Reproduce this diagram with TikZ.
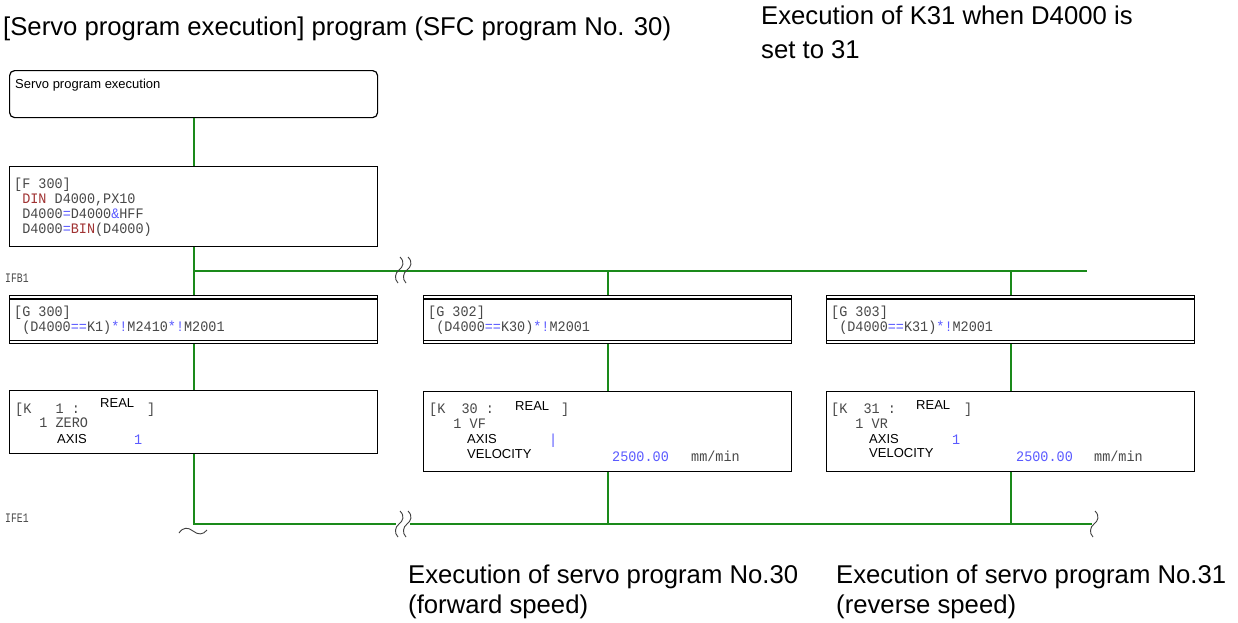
\documentclass[tikz,border=0pt]{standalone}
\usepackage{fontspec}
\setmainfont{Liberation Sans}
\newfontfamily\codefont[FakeStretch=0.93]{Liberation Mono}
\newfontfamily\labelfont[FakeStretch=0.75]{Liberation Mono}
\definecolor{wiregreen}{HTML}{1A8A1A}
\definecolor{codegray}{HTML}{484848}
\definecolor{opblue}{HTML}{5A5AFF}
\definecolor{kwred}{HTML}{A03232}
\newcommand\opc[1]{\textcolor{opblue}{#1}}
\newcommand\kwc[1]{\textcolor{kwred}{#1}}
\begin{document}
\begin{tikzpicture}[x=1pt,y=-1pt,
  wire/.style={draw=wiregreen, line width=2pt},
  sfcbox/.style={draw=black, line width=1.2pt, rectangle, anchor=north west,
    inner sep=0pt, minimum width=368pt},
  code/.style={anchor=base west, inner sep=0pt, text=codegray,
    font=\codefont\fontsize{14.5}{16}\selectfont},
  small/.style={anchor=base west, inner sep=0pt, text=codegray,
    font=\labelfont\fontsize{13}{14}\selectfont},
  tag/.style={anchor=base west, inner sep=0pt, text=black,
    font=\fontsize{13}{15}\selectfont},
  val/.style={code, text=opblue},
  big/.style={anchor=base west, inner sep=0pt, text=black,
    font=\fontsize{25.7}{30}\selectfont},
  brk/.style={draw=black!75, line width=0.9pt},
  wavy/.pic={\draw[brk] (1,-13) .. controls (6,-8) and (4,-3) .. (0,0)
                     .. controls (-4,3) and (-5,9) .. (-1,13);},
]
\useasboundingbox[fill=white] (0,0) rectangle (1238,622);

% headings
\node[big] (title) at (3,35) {[Servo program execution] program (SFC program No. 30)};
\node[big] (note1) at (761,24) {Execution of K31 when D4000 is};
\node[big] (note2) at (761,58) {set to 31};

% start step
\node[sfcbox, rounded corners=5pt, minimum height=47pt] (start) at (9,70) {};
\node[tag] (startT) at (15,88) {Servo program execution};

% F 300
\node[sfcbox, minimum height=80pt] (f300) at (9,166) {};
\node[code] (f1) at (14,188) {[F~300]};
\node[code] (f2) at (14,203) {~\kwc{DIN}~D4000,PX10};
\node[code] (f3) at (14,218) {~D4000\opc{=}D4000\opc{\&}HFF};
\node[code] (f4) at (14,233) {~D4000\opc{=}\kwc{BIN}(D4000)};

% G steps (double top and bottom rules)
\node[sfcbox, minimum height=48pt] (g300) at (9,295) {};
\node[sfcbox, minimum height=48pt] (g302) at (423,295) {};
\node[sfcbox, minimum height=48pt] (g303) at (826,295) {};
\foreach \g in {g300,g302,g303}{
  \draw[line width=1.2pt] ([yshift=-4pt]\g.north west) -- ([yshift=-4pt]\g.north east);
  \draw[line width=1.2pt] ([yshift=4pt]\g.south west) -- ([yshift=4pt]\g.south east);
}
\node[code] (g300a) at (14,316) {[G~300]};
\node[code] (g300b) at (14,331) {~(D4000\opc{==}K1)\opc{*!}M2410\opc{*!}M2001};
\node[code] (g302a) at (428,316) {[G~302]};
\node[code] (g302b) at (428,331) {~(D4000\opc{==}K30)\opc{*!}M2001};
\node[code] (g303a) at (831,316) {[G~303]};
\node[code] (g303b) at (831,331) {~(D4000\opc{==}K31)\opc{*!}M2001};

% K steps
\node[sfcbox, minimum height=63pt] (k1) at (9,390) {};
\node[code] (k1a) at (15,413) {[K~~~1~:};
\node[tag] (k1r) at (100,407) {REAL};
\node[code] (k1c) at (147,413) {]};
\node[code] (k1b) at (15,427) {~~~1~ZERO};
\node[tag] (k1x) at (57,443) {AXIS};
\node[val] (k1v) at (134,444) {1};

\node[sfcbox, minimum height=80pt] (k30) at (423,391) {};
\node[code] (k30a) at (429,413) {[K~~30~:};
\node[tag] (k30r) at (515,410) {REAL};
\node[code] (k30c) at (561,413) {]};
\node[code] (k30b) at (429,428) {~~~1~VF};
\node[tag] (k30x) at (467,443) {AXIS};
\node[val] (k30v) at (549,444) {|};
\node[tag] (k30y) at (467,458) {VELOCITY};
\node[val] (k30s) at (612,461) {2500.00};
\node[code] (k30u) at (691,461) {mm/min};

\node[sfcbox, minimum height=80pt] (k31) at (826,391) {};
\node[code] (k31a) at (831,413) {[K~~31~:};
\node[tag] (k31r) at (916,409) {REAL};
\node[code] (k31c) at (964,413) {]};
\node[code] (k31b) at (831,428) {~~~1~VR};
\node[tag] (k31x) at (869,443) {AXIS};
\node[val] (k31v) at (952,444) {1};
\node[tag] (k31y) at (869,457) {VELOCITY};
\node[val] (k31s) at (1016,461) {2500.00};
\node[code] (k31u) at (1094,461) {mm/min};

% branch labels
\node[small] (ifbT) at (5,282) {IFB1};
\node[small] (ifeT) at (5,522) {IFE1};

% connections
\coordinate (ifb) at (193,271);
\coordinate (ifbEnd) at (1087,271);
\coordinate (ife) at (193,524);
\coordinate (gapL) at (396,524);
\coordinate (gapR) at (410,524);
\coordinate (ifeEnd) at (1092,524);

\draw[wire] (start.south) -- (f300.north);
\draw[wire] (f300.south) -- (g300.north);
\draw[wire] (ifb) -- (ifbEnd);
\draw[wire] (g302.north |- ifb) -- (g302.north);
\draw[wire] (g303.north |- ifb) -- (g303.north);
\draw[wire] (g300.south) -- (k1.north);
\draw[wire] (g302.south) -- (k30.north);
\draw[wire] (g303.south) -- (k31.north);
\draw[wire] (k1.south) |- (gapL);
\draw[wire] (gapR) -- (ifeEnd);
\draw[wire] (k30.south) -- (k30.south |- ife);
\draw[wire] (k31.south) -- (k31.south |- ife);

% break marks
\pic at (399,270) {wavy};
\pic at (407,270) {wavy};
\pic at (399,524) {wavy};
\pic at (407,524) {wavy};
\pic at (1094,524) {wavy};
\draw[brk] (179,533) .. controls (183,527) and (188,527) .. (193,531)
           .. controls (198,535) and (203,535) .. (207,530);

% captions
\node[big] (cap30a) at (408,583) {Execution of servo program No.30};
\node[big] (cap30b) at (408,613) {(forward speed)};
\node[big] (cap31a) at (836,583) {Execution of servo program No.31};
\node[big] (cap31b) at (836,613) {(reverse speed)};
\end{tikzpicture}
\end{document}
